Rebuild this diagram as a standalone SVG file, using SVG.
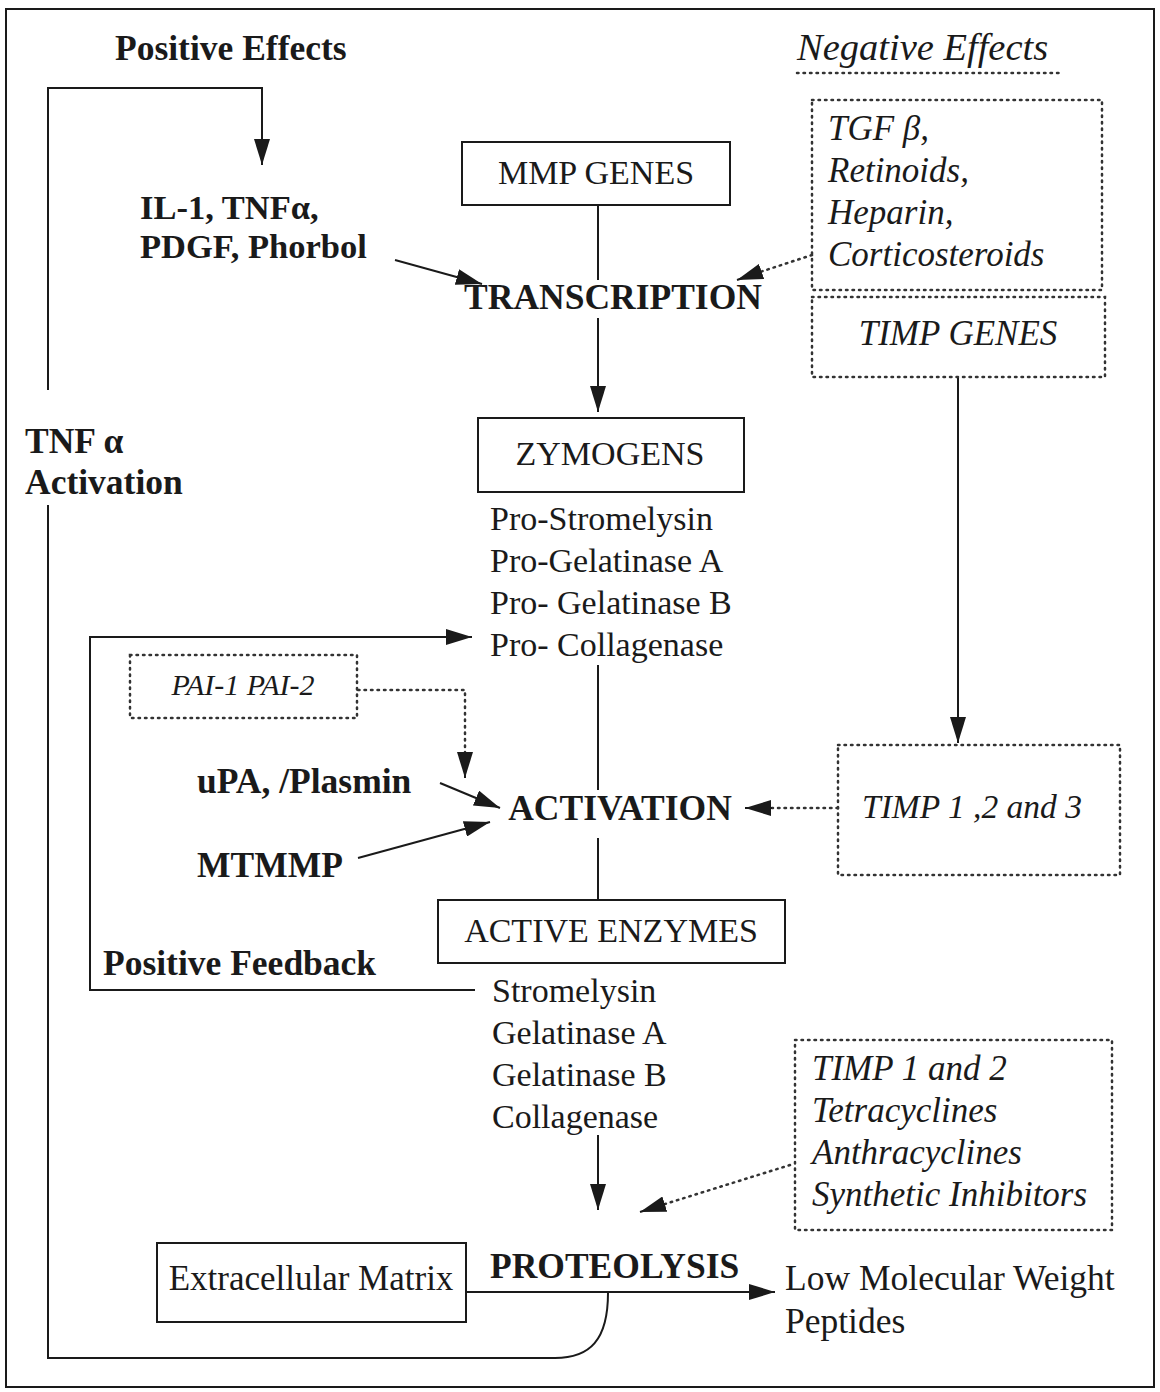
<svg xmlns="http://www.w3.org/2000/svg" width="1160" height="1392" viewBox="0 0 1160 1392">
<defs>
<marker id="ah" viewBox="0 0 26 16" refX="26" refY="8" markerWidth="26" markerHeight="16" markerUnits="userSpaceOnUse" orient="auto"><path d="M0,0 L26,8 L0,16 z" fill="#1a1a1a"/></marker>
<style>
.t{font-family:"Liberation Serif","Times New Roman",serif;fill:#1a1a1a;font-size:34px}
.b{font-weight:bold;font-size:35.5px}
.i{font-style:italic;font-size:35px}
.box{fill:none;stroke:#1a1a1a;stroke-width:2}
.dbox{fill:none;stroke:#333;stroke-width:2.5;stroke-dasharray:1.5 5;stroke-linecap:round}
.ln{fill:none;stroke:#1a1a1a;stroke-width:2}
.dl{fill:none;stroke:#333;stroke-width:2.5;stroke-dasharray:1.5 5;stroke-linecap:round}
</style>
</defs>
<rect width="1160" height="1392" fill="#fff"/>
<rect x="6" y="9" width="1148" height="1378" class="box"/>

<g id="connectors">
<path class="ln" d="M608,1293 C608,1340 590,1358 555,1358 L48,1358 L48,505"/>
<path class="ln" d="M48,390 L48,88 L262,88 L262,165" marker-end="url(#ah)"/>
<path class="ln" d="M475,990 L90,990 L90,637 L472,637" marker-end="url(#ah)"/>
<path class="ln" d="M395,260 L482,284" marker-end="url(#ah)"/>
<path class="ln" d="M598,205 L598,280"/>
<path class="ln" d="M598,318 L598,412" marker-end="url(#ah)"/>
<path class="ln" d="M598,665 L598,790"/>
<path class="ln" d="M598,838 L598,900"/>
<path class="ln" d="M598,1135 L598,1210" marker-end="url(#ah)"/>
<path class="ln" d="M466,1292 L775,1292" marker-end="url(#ah)"/>
<path class="dl" d="M358,690 L465,690 L465,755"/>
<path class="ln" d="M465,755 L465,778" marker-end="url(#ah)"/>
<path class="ln" d="M440,783 L500,808" marker-end="url(#ah)"/>
<path class="ln" d="M358,858 L490,822" marker-end="url(#ah)"/>
<path class="dl" d="M812,255 L760,272"/>
<path class="ln" d="M760,272 L737,280" marker-end="url(#ah)"/>
<path class="ln" d="M958,377 L958,743" marker-end="url(#ah)"/>
<path class="dl" d="M838,808 L772,808"/>
<path class="ln" d="M772,808 L745,808" marker-end="url(#ah)"/>
<path class="dl" d="M790,1165 L665,1204"/>
<path class="ln" d="M665,1204 L640,1212" marker-end="url(#ah)"/>
</g>

<g id="positive-effects"><text class="t b" x="115" y="60">Positive Effects</text></g>
<g id="il1"><text class="t b" x="140" y="219" style="font-size:34.5px">IL-1, TNFα,</text><text class="t b" x="140" y="258" style="font-size:34.5px">PDGF, Phorbol</text></g>
<g id="tnf-activation"><text class="t b" x="25" y="453">TNF α</text><text class="t b" x="25" y="494">Activation</text></g>
<g id="positive-feedback"><text class="t b" x="103" y="975">Positive Feedback</text></g>
<g id="upa"><text class="t b" x="197" y="793">uPA, /Plasmin</text></g>
<g id="mtmmp"><text class="t b" x="197" y="877">MTMMP</text></g>
<g id="pai"><rect x="130" y="655" width="227" height="63" class="dbox"/><text class="t i" x="243" y="695" text-anchor="middle" style="font-size:30px">PAI-1  PAI-2</text></g>

<g id="mmp-genes"><rect x="462" y="142" width="268" height="63" class="box"/><text class="t" x="596" y="184" text-anchor="middle">MMP GENES</text></g>
<g id="transcription"><text class="t b" x="613" y="309" text-anchor="middle">TRANSCRIPTION</text></g>
<g id="zymogens"><rect x="478" y="418" width="266" height="74" class="box"/><text class="t" x="610" y="465" text-anchor="middle">ZYMOGENS</text>
<text class="t" x="490" y="530">Pro-Stromelysin</text><text class="t" x="490" y="572">Pro-Gelatinase A</text><text class="t" x="490" y="614">Pro- Gelatinase B</text><text class="t" x="490" y="656">Pro- Collagenase</text></g>
<g id="activation"><text class="t b" x="620" y="820" text-anchor="middle">ACTIVATION</text></g>
<g id="active-enzymes"><rect x="438" y="900" width="347" height="63" class="box"/><text class="t" x="611" y="942" text-anchor="middle">ACTIVE ENZYMES</text>
<text class="t" x="492" y="1002">Stromelysin</text><text class="t" x="492" y="1044">Gelatinase A</text><text class="t" x="492" y="1086">Gelatinase B</text><text class="t" x="492" y="1128">Collagenase</text></g>
<g id="proteolysis"><text class="t b" x="490" y="1278">PROTEOLYSIS</text></g>
<g id="ecm"><rect x="157" y="1243" width="309" height="79" class="box"/><text class="t" x="311" y="1290" text-anchor="middle" style="font-size:35px">Extracellular Matrix</text></g>
<g id="lmw"><text class="t" x="785" y="1290" style="font-size:35.5px">Low Molecular Weight</text><text class="t" x="785" y="1333" style="font-size:35.5px">Peptides</text></g>

<g id="negative-effects"><text class="t i" x="797" y="60" style="font-size:38.5px">Negative Effects</text><path class="dl" d="M797,73 L1062,73"/></g>
<g id="tgf"><rect x="812" y="100" width="290" height="190" class="dbox"/>
<text class="t i" x="828" y="140">TGF β,</text><text class="t i" x="828" y="182">Retinoids,</text><text class="t i" x="828" y="224">Heparin,</text><text class="t i" x="828" y="266">Corticosteroids</text></g>
<g id="timp-genes"><rect x="812" y="297" width="293" height="80" class="dbox"/><text class="t i" x="958" y="345" text-anchor="middle">TIMP GENES</text></g>
<g id="timp123"><rect x="838" y="745" width="282" height="130" class="dbox"/><text class="t i" x="862" y="818" style="font-size:33.5px">TIMP 1 ,2 and 3</text></g>
<g id="timp12"><rect x="795" y="1040" width="317" height="190" class="dbox"/>
<text class="t i" x="812" y="1080">TIMP 1 and 2</text><text class="t i" x="812" y="1122">Tetracyclines</text><text class="t i" x="812" y="1164">Anthracyclines</text><text class="t i" x="812" y="1206">Synthetic Inhibitors</text></g>
</svg>
